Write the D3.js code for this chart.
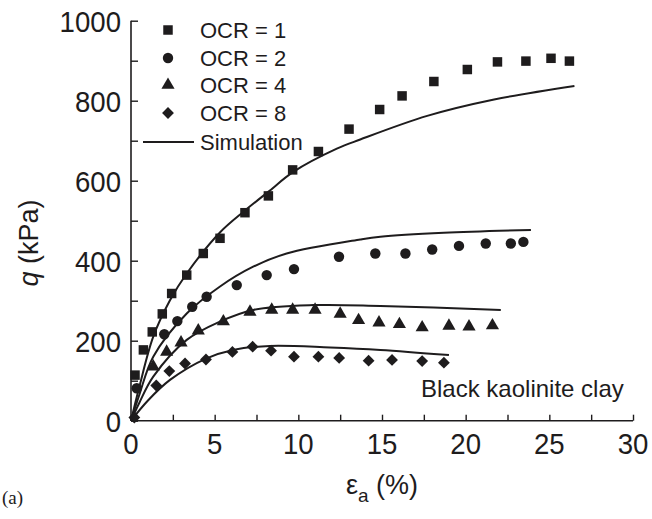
<!DOCTYPE html>
<html><head><meta charset="utf-8">
<script src="https://cdn.jsdelivr.net/npm/d3@7"></script>
<style>body{margin:0;background:#fff}svg{display:block}</style>
</head><body>
<script>
const xTicks = [0,5,10,15,20,25,30];
const yTicks = [0,200,400,600,800,1000];
const seriesNames = ["OCR = 1","OCR = 2","OCR = 4","OCR = 8"];
const ocr1 = [[0.24,114],[0.74,177],[1.27,222],[1.87,267],[2.43,318],[3.33,364],[4.32,418],[5.32,456],[6.81,520],[8.21,562],[9.66,627],[11.2,673],[13.03,729],[14.86,778],[16.2,812],[18.1,848],[20.1,878],[21.9,897],[23.6,899],[25.1,906],[26.2,899]];
const ocr2 = [[0.34,81],[1.99,216],[2.77,249],[3.66,285],[4.52,310],[6.32,339],[8.11,364],[9.74,379],[12.43,410],[14.6,418],[16.4,418],[18.0,428],[19.6,437],[21.2,443],[22.7,443],[23.45,447]];
const ocr4 = [[1.33,135],[2.13,172],[2.99,195],[4.02,225],[5.52,248],[7.11,272],[8.41,277],[9.66,277],[11.0,277],[12.5,267],[13.6,251],[14.82,245],[16.04,241],[17.4,233],[19.0,237],[20.2,235],[21.6,238]];
const ocr8 = [[0.2,8],[1.51,88],[2.29,124],[3.23,143],[4.48,153],[6.06,172],[7.27,185],[8.37,175],[9.74,160],[11.2,160],[12.44,157],[14.2,150],[15.6,152],[17.4,149],[18.7,145]];
const sim1 = [[0,0],[0.5,85],[1.33,210],[2.33,301],[3.33,368],[5.3,470],[6.8,525],[8.2,572],[9.7,622],[12.3,680],[13.7,703],[17.7,762],[21.7,803],[26.5,837]];
const sim2 = [[0,0],[0.5,65],[1.33,160],[3.33,268],[5.3,335],[7.3,385],[9.3,418],[13.7,453],[14.9,460],[18.7,470],[23.9,477]];
const sim4 = [[0,0],[0.5,45],[1.33,110],[3.33,202],[5.32,248],[7.31,277],[10.9,289],[14.9,287],[22.1,277]];
const sim8 = [[0,0],[1,50],[2.33,102],[4.52,156],[6.1,177],[8.3,187],[11.9,183],[14.9,177],[19.0,164]];

const W=652,H=519, ink="#1e1c1d";
const svg=d3.select("body").append("svg").attr("width",W).attr("height",H);
const x=d3.scaleLinear().domain([0,30]).range([131,633]);
const y=d3.scaleLinear().domain([0,1000]).range([420.7,20.7]);
const font="'Liberation Sans', Arial, sans-serif";

// simulation curves
const line=d3.line().x(d=>x(d[0])).y(d=>y(d[1])).curve(d3.curveCatmullRom.alpha(0.5));
[sim1,sim2,sim4,sim8].forEach(s=>{
  svg.append("path").attr("d",line(s)).attr("fill","none").attr("stroke",ink).attr("stroke-width",2);
});

// markers
const sym={sq:d3.symbol().type(d3.symbolSquare).size(90),
  ci:d3.symbol().type(d3.symbolCircle).size(85),
  tr:d3.symbol().type(d3.symbolTriangle).size(75),
  di:d3.symbol().type(d3.symbolSquare).size(70)};
const rot=[0,0,0,45];
const groups=[[ocr1,sym.sq],[ocr2,sym.ci],[ocr4,sym.tr],[ocr8,sym.di]];
groups.forEach(([data,s],i)=>{
  svg.append("g").selectAll("path").data(data).join("path")
    .attr("d",s()).attr("transform",d=>`translate(${x(d[0])},${y(d[1])}) rotate(${rot[i]})`).attr("fill",ink);
});

// axes
const xAxis=d3.axisBottom(x).tickValues(d3.range(0,30.1,2.5)).tickSize(-6).tickFormat("");
const gx=svg.append("g").attr("transform","translate(0,420.7)").call(xAxis);
const yAxis=d3.axisLeft(y).tickValues(d3.range(0,1001,100)).tickSize(-7).tickFormat("");
const gy=svg.append("g").attr("transform","translate(131,0)").call(yAxis);
[gx,gy].forEach(g=>{g.selectAll("path").attr("stroke",ink).attr("stroke-width",1.6);
  g.selectAll("line").attr("stroke",ink).attr("stroke-width",1.4);});
gx.select(".domain").attr("d","M131,0H633");
gy.select(".domain").attr("d","M0,420.7V20.7");

svg.append("g").selectAll("text").data(xTicks).join("text")
  .attr("transform",d=>`translate(${x(d)},454) scale(0.92,1)`).attr("text-anchor","middle")
  .attr("font-family",font).attr("font-size",30).attr("fill",ink).text(d=>d);
svg.append("g").selectAll("text").data(yTicks).join("text")
  .attr("transform",d=>`translate(121,${y(d)+11}) scale(0.92,1)`).attr("text-anchor","end")
  .attr("font-family",font).attr("font-size",30).attr("fill",ink).text(d=>d);

// axis titles
const yt=svg.append("text").attr("transform","translate(38,243) rotate(-90)")
  .attr("text-anchor","middle").attr("font-family",font).attr("font-size",27).attr("fill",ink);
yt.append("tspan").attr("font-style","italic").text("q");
yt.append("tspan").text(" (kPa)");
const xt=svg.append("text").attr("x",382).attr("y",494).attr("text-anchor","middle")
  .attr("font-family",font).attr("font-size",27).attr("fill",ink);
xt.append("tspan").text("ε");
xt.append("tspan").attr("font-size",19).attr("dy",8).text("a");
xt.append("tspan").attr("dy",-8).text(" (%)");
svg.append("text").attr("x",2).attr("y",504).attr("font-family","'Liberation Serif', serif")
  .attr("font-size",19).attr("fill",ink).text("(a)");
svg.append("text").attr("x",421).attr("y",397).attr("font-family",font).attr("font-size",24)
  .attr("fill",ink).text("Black kaolinite clay");

// legend
const legSyms=[sym.sq,sym.ci,sym.tr,sym.di];
const legY=[30,58,85,113];
seriesNames.forEach((n,i)=>{
  svg.append("path").attr("d",legSyms[i]()).attr("transform",`translate(168,${legY[i]}) rotate(${rot[i]})`).attr("fill",ink);
  svg.append("text").attr("x",200).attr("y",legY[i]+8).attr("font-family",font).attr("font-size",22)
    .attr("fill",ink).text(n);
});
svg.append("line").attr("x1",143).attr("x2",194).attr("y1",142).attr("y2",142).attr("stroke",ink).attr("stroke-width",2);
svg.append("text").attr("x",200).attr("y",150).attr("font-family",font).attr("font-size",22).attr("fill",ink).text("Simulation");
</script>
</body></html>
